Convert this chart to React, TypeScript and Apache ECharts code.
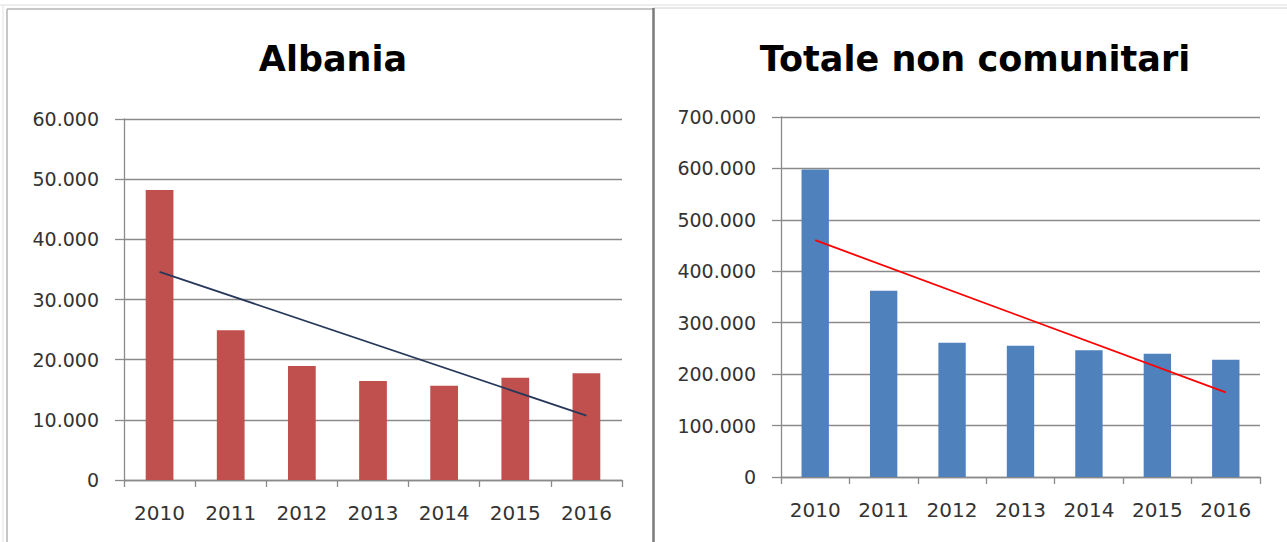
import React, { useEffect, useRef } from "react";
import * as echarts from "echarts";

const categories = ["2010", "2011", "2012", "2013", "2014", "2015", "2016"];
const albaniaValues = [48200, 24900, 18950, 16450, 15670, 17000, 17730];
const albaniaTrend = [34600, null, null, null, null, null, 10700];
const totaleValues = [598000, 362000, 261000, 255100, 246700, 239600, 227900];
const totaleTrend = [460500, null, null, null, null, null, 164500];
const albaniaTicks = { min: 0, max: 60000, interval: 10000 };
const totaleTicks = { min: 0, max: 700000, interval: 100000 };

const fmt = (v: number) => String(v).replace(/\B(?=(\d{3})+(?!\d))/g, ".");

const GRID_GRAY = "#8a8a8a";
const FONT = "DejaVu Sans";

function yAxis(gridIndex: number, t: { min: number; max: number; interval: number }) {
  return {
    type: "value",
    gridIndex,
    min: t.min,
    max: t.max,
    interval: t.interval,
    axisLine: { show: true, lineStyle: { color: GRID_GRAY, width: 1.3 } },
    axisTick: { show: true, length: 9, lineStyle: { color: GRID_GRAY, width: 1.3 } },
    splitLine: { show: true, lineStyle: { color: GRID_GRAY, width: 1.3 } },
    axisLabel: {
      formatter: (v: number) => fmt(v),
      fontFamily: FONT,
      fontSize: 19,
      color: "#333333",
      margin: 25,
    },
  };
}

function xAxis(gridIndex: number) {
  return {
    type: "category",
    gridIndex,
    data: categories,
    boundaryGap: true,
    axisLine: { show: true, lineStyle: { color: GRID_GRAY, width: 1.3 } },
    axisTick: { show: true, length: 7, alignWithLabel: false, lineStyle: { color: GRID_GRAY, width: 1.3 } },
    axisLabel: { fontFamily: FONT, fontSize: 20, color: "#333333", margin: 23, interval: 0 },
  };
}

export default function App() {
  const ref = useRef<HTMLDivElement>(null);
  useEffect(() => {
    if (!ref.current) return;
    const chart = echarts.init(ref.current, undefined, { renderer: "svg" });
    chart.setOption({
      animation: false,
      backgroundColor: "#ffffff",
      title: [
        {
          text: "Albania",
          left: 328,
          top: 36,
          textAlign: "center",
          textStyle: { fontFamily: FONT, fontSize: 35, fontWeight: "bold", color: "#000000" },
        },
        {
          text: "Totale non comunitari",
          left: 970,
          top: 36,
          textAlign: "center",
          textStyle: { fontFamily: FONT, fontSize: 35, fontWeight: "bold", color: "#000000" },
        },
      ],
      grid: [
        { left: 124, top: 119, width: 498, height: 361 },
        { left: 781, top: 117, width: 479, height: 360 },
      ],
      xAxis: [xAxis(0), xAxis(1)],
      yAxis: [yAxis(0, albaniaTicks), yAxis(1, totaleTicks)],
      series: [
        {
          type: "bar",
          xAxisIndex: 0,
          yAxisIndex: 0,
          data: albaniaValues,
          barWidth: "39%",
          itemStyle: { color: "#C0504D" },
        },
        {
          type: "line",
          xAxisIndex: 0,
          yAxisIndex: 0,
          data: albaniaTrend,
          connectNulls: true,
          symbol: "none",
          lineStyle: { color: "#26385a", width: 1.8 },
        },
        {
          type: "bar",
          xAxisIndex: 1,
          yAxisIndex: 1,
          data: totaleValues,
          barWidth: "40%",
          itemStyle: { color: "#4F81BD" },
        },
        {
          type: "line",
          xAxisIndex: 1,
          yAxisIndex: 1,
          data: totaleTrend,
          connectNulls: true,
          symbol: "none",
          lineStyle: { color: "#FF0000", width: 1.8 },
        },
      ],
      graphic: [
        { type: "line", shape: { x1: 0, y1: 5, x2: 1287, y2: 5 }, style: { stroke: "#dcdcdc", lineWidth: 1 } },
        { type: "line", shape: { x1: 3, y1: 5, x2: 3, y2: 542 }, style: { stroke: "#e2e2e2", lineWidth: 1 } },
        { type: "line", shape: { x1: 7, y1: 9, x2: 7, y2: 542 }, style: { stroke: "#b4b4b4", lineWidth: 1.5 } },
        { type: "line", shape: { x1: 7, y1: 9, x2: 653, y2: 9 }, style: { stroke: "#b4b4b4", lineWidth: 1.5 } },
        { type: "line", shape: { x1: 653, y1: 8, x2: 1287, y2: 8 }, style: { stroke: "#d0d0d0", lineWidth: 1 } },
        { type: "line", shape: { x1: 653.5, y1: 8, x2: 653.5, y2: 542 }, style: { stroke: "#7a7a7a", lineWidth: 2.5 } },
      ],
    });
    return () => chart.dispose();
  }, []);
  return (
    <div
      ref={ref}
      style={{ position: "fixed", left: 0, top: 0, width: 1287, height: 542, background: "#fff" }}
    />
  );
}
